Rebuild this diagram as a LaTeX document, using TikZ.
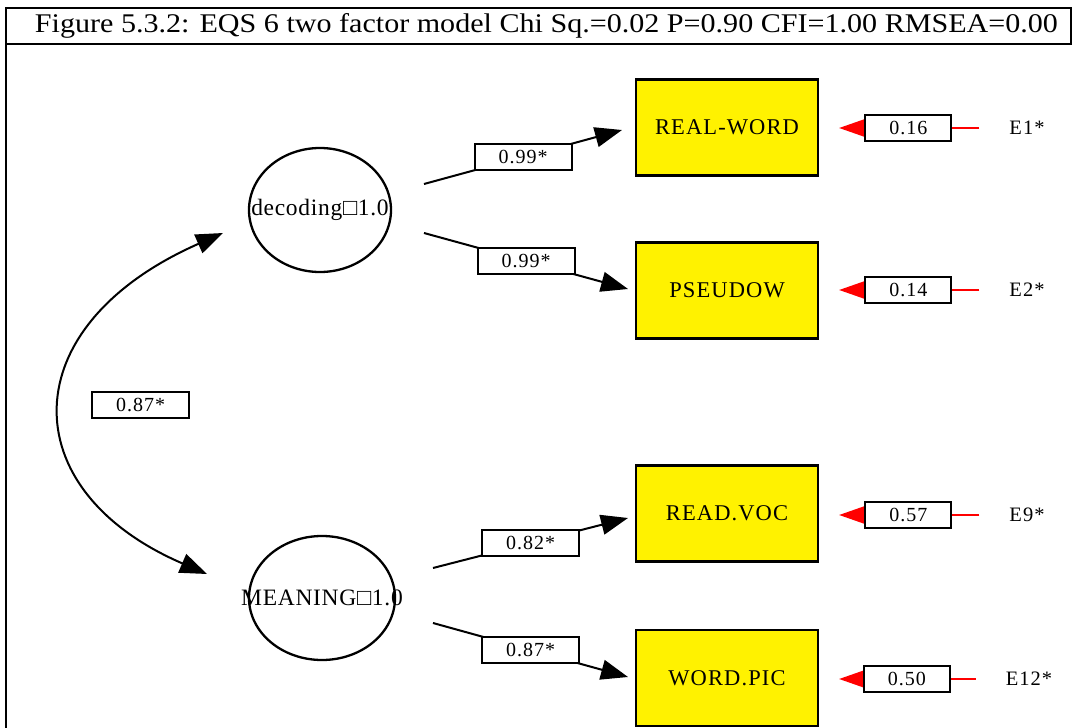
\documentclass[tikz,border=0pt]{standalone}
\usepackage{fontspec}
\setmainfont{Liberation Serif}
\newfontfamily\spaced[LetterSpace=5]{Liberation Serif}
\newfontfamily\wide[LetterSpace=3]{Liberation Serif}
\usetikzlibrary{arrows.meta,shapes.geometric}
\begin{document}
\begin{tikzpicture}[x=1pt,y=-1pt,
  factor/.style={ellipse,draw,line width=2.3pt,minimum width=142pt,minimum height=124pt,inner sep=0pt,
    font=\wide\fontsize{23.5}{23.5}\selectfont},
  measure/.style={rectangle,draw,line width=2.2pt,fill=yellow,minimum width=182pt,minimum height=96pt,
    font=\spaced\fontsize{22.5}{22.5}\selectfont},
  coef/.style={rectangle,draw=black,text=black,line width=2pt,fill=white,minimum width=97pt,minimum height=26pt,inner sep=0pt,
    font=\spaced\fontsize{20}{20}\selectfont},
  errval/.style={coef,minimum width=86pt},
  errname/.style={inner sep=0pt,font=\spaced\fontsize{20.5}{20.5}\selectfont},
  path/.style={line width=2pt,-{Triangle[length=27pt,width=20pt]}},
  errpath/.style={line width=2pt,red,shorten <=30pt,shorten >=20pt,-{Triangle[length=28pt,width=19pt]}},
  cov/.style={line width=2pt,{Triangle[length=27pt,width=20pt]}-{Triangle[length=27pt,width=20pt]}}]
\useasboundingbox (0,0) rectangle (1072,728);

% frame and title bar
\draw[line width=2.6pt] (6,44) -- (6,740);
\draw[line width=2.2pt,fill=white] (6,8) rectangle (1071,44);
\node[anchor=base,inner sep=0pt] (title) at (546.5,32)
  {\resizebox{1023pt}{19pt}{Figure 5.3.2: EQS 6 two factor model Chi Sq.=0.02 P=0.90 CFI=1.00 RMSEA=0.00}};

% latent factors (labels may run past the outline)
\node[factor] (dec) at (320,210) {\makebox[0pt]{decoding□1.0}};
\node[factor,minimum width=146pt] (mea) at (322,598) {\makebox[0pt]{MEANING□1.0}};

% observed variables
\node[measure] (rw) at (727,127.5) {REAL-WORD};
\node[measure] (ps) at (727,290.5) {PSEUDOW};
\node[measure] (rv) at (727,513.5) {READ.VOC};
\node[measure] (wp) at (727,678) {WORD.PIC};

% error terms
\node[errname] (e1) at (1027,128) {E1*};
\node[errname] (e2) at (1027,290) {E2*};
\node[errname] (e9) at (1027,515) {E9*};
\node[errname] (e12) at (1029,679) {E12*};

% loading path end points
\coordinate (d1) at (424,184);  \coordinate (t1) at (622,130);
\coordinate (d2) at (424,233);  \coordinate (t2) at (628,289);
\coordinate (m1) at (433,568);  \coordinate (t3) at (628,518);
\coordinate (m2) at (433,623);  \coordinate (t4) at (628,677);

\draw[path] (d1) -- (t1) node[coef,midway] {0.99*};
\draw[path] (d2) -- (t2) node[coef,midway] {0.99*};
\draw[path] (m1) -- (t3) node[coef,midway] {0.82*};
\draw[path] (m2) -- (t4) node[coef,midway] {0.87*};

% factor covariance
\coordinate (c1) at (223,233);
\coordinate (c2) at (207,574);
\draw[cov] (c1) .. controls (12,326) and (12,490) .. (c2);
\node[coef] (r) at (140.5,405) {0.87*};

% error paths
\draw[errpath] (e1.west) -- (e1.west -| rw.east) node[errval,pos=0.53] {0.16};
\draw[errpath] (e2.west) -- (e2.west -| ps.east) node[errval,pos=0.53] {0.14};
\draw[errpath] (e9.west) -- (e9.west -| rv.east) node[errval,pos=0.53] {0.57};
\draw[errpath] (e12.west) -- (e12.west -| wp.east) node[errval,pos=0.53] {0.50};
\end{tikzpicture}
\end{document}
